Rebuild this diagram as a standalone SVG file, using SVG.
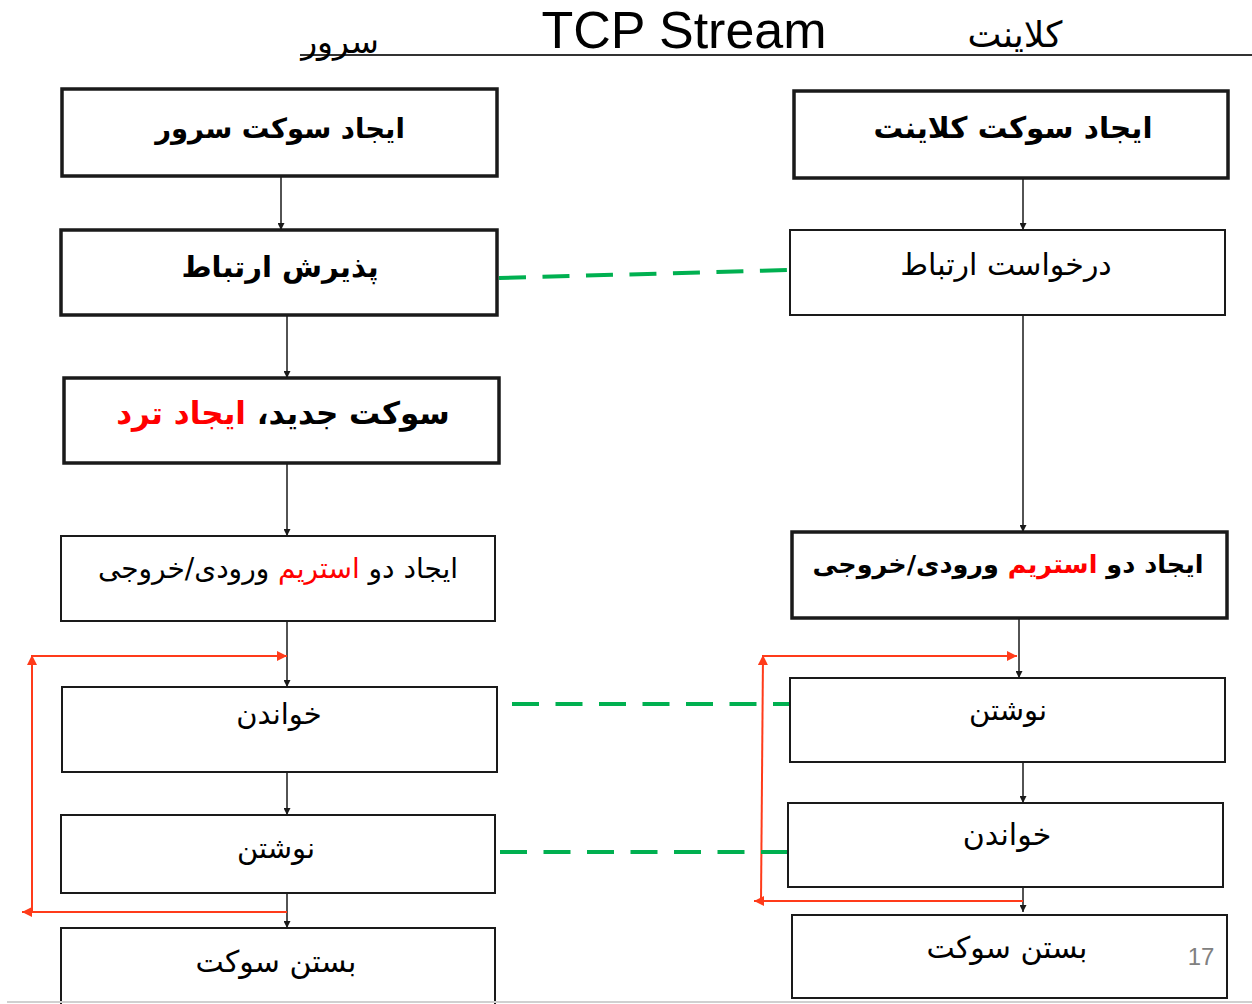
<svg xmlns="http://www.w3.org/2000/svg" width="1252" height="1004" viewBox="0 0 1252 1004">
  <style>
    .box { fill: #ffffff; stroke: #1a1a1a; stroke-width: 2; }
    .box.strong { stroke-width: 3.5; }
    .fa { font-family: "DejaVu Sans", sans-serif; fill: #000000; text-anchor: middle; direction: rtl; }
    .fa.b { font-weight: bold; }
    .red { fill: #ff0000; }
    .flow { stroke: #1a1a1a; stroke-width: 1.5; fill: none; marker-end: url(#arrowBlack); }
    .loop { stroke: #ff3b1a; stroke-width: 2; fill: none; }
    .link { stroke: #00b050; stroke-width: 4; stroke-dasharray: 27 16.5; fill: none; }
  </style>
  <defs>
    <marker id="arrowBlack" viewBox="0 0 10 10" refX="10" refY="5" markerWidth="7" markerHeight="7" markerUnits="userSpaceOnUse" orient="auto">
      <path d="M0,0 L10,5 L0,10 z" fill="#1a1a1a"/>
    </marker>
    <marker id="arrowRed" viewBox="0 0 10 10" refX="10" refY="5" markerWidth="10" markerHeight="10" markerUnits="userSpaceOnUse" orient="auto">
      <path d="M0,0 L10,5 L0,10 z" fill="#ff3b1a"/>
    </marker>
  </defs>

  <rect x="0" y="0" width="1252" height="1004" fill="#ffffff"/>

  <!-- heading -->
  <g id="heading">
    <line x1="300" y1="55" x2="1252" y2="55" stroke="#333333" stroke-width="2"/>
    <text x="684" y="48" font-family="Liberation Sans, Arial, sans-serif" font-size="52" text-anchor="middle" fill="#000000">TCP Stream</text>
    <text class="fa" x="340" y="53" font-size="33">سرور</text>
    <text class="fa" x="1015" y="47" font-size="36">کلاینت</text>
  </g>

  <!-- connectors -->
  <g id="connectors">
    <!-- server flow -->
    <line class="flow" x1="281" y1="176" x2="281" y2="230"/>
    <line class="flow" x1="287" y1="315" x2="287" y2="378"/>
    <line class="flow" x1="287" y1="463" x2="287" y2="536"/>
    <line class="flow" x1="287" y1="621" x2="287" y2="687"/>
    <line class="flow" x1="287" y1="772" x2="287" y2="815"/>
    <line class="flow" x1="287" y1="893" x2="287" y2="928"/>
    <!-- client flow -->
    <line class="flow" x1="1023" y1="178" x2="1023" y2="230"/>
    <line class="flow" x1="1023" y1="315" x2="1023" y2="532"/>
    <line class="flow" x1="1019" y1="618" x2="1019" y2="678"/>
    <line class="flow" x1="1023" y1="762" x2="1023" y2="803"/>
    <line class="flow" x1="1023" y1="887" x2="1023" y2="912"/>
    <!-- server read/write loop -->
    <line class="loop" x1="287" y1="912" x2="22" y2="912" marker-end="url(#arrowRed)"/>
    <line class="loop" x1="32" y1="912" x2="32" y2="655" marker-end="url(#arrowRed)"/>
    <line class="loop" x1="32" y1="656" x2="287" y2="656" marker-end="url(#arrowRed)"/>
    <!-- client write/read loop -->
    <line class="loop" x1="1023" y1="901" x2="754" y2="901" marker-end="url(#arrowRed)"/>
    <line class="loop" x1="761" y1="901" x2="763" y2="655" marker-end="url(#arrowRed)"/>
    <line class="loop" x1="763" y1="656" x2="1017" y2="656" marker-end="url(#arrowRed)"/>
    <!-- exchanges between the two sides -->
    <line class="link" x1="499" y1="278" x2="790" y2="270"/>
    <line class="link" x1="512" y1="704" x2="800" y2="704"/>
    <line class="link" x1="500" y1="852" x2="787" y2="852"/>
  </g>

  <!-- server side -->
  <g id="server-create">
    <rect class="box strong" x="62" y="89" width="435" height="87"/>
    <text class="fa b" x="280" y="138" font-size="27.5">ایجاد سوکت سرور</text>
  </g>
  <g id="server-accept">
    <rect class="box strong" x="61" y="230" width="436" height="85"/>
    <text class="fa b" x="280" y="277" font-size="29">پذیرش ارتباط</text>
  </g>
  <g id="server-thread">
    <rect class="box strong" x="64" y="378" width="435" height="85"/>
    <text class="fa b" x="283" y="424" font-size="31">سوکت جدید، <tspan class="red">ایجاد ترد</tspan></text>
  </g>
  <g id="server-streams">
    <rect class="box" x="61" y="536" width="434" height="85"/>
    <text class="fa" x="278" y="578" font-size="28">ایجاد دو <tspan class="red">استریم</tspan> ورودی/خروجی</text>
  </g>
  <g id="server-read">
    <rect class="box" x="62" y="687" width="435" height="85"/>
    <text class="fa" x="279" y="724" font-size="29">خواندن</text>
  </g>
  <g id="server-write">
    <rect class="box" x="61" y="815" width="434" height="78"/>
    <text class="fa" x="276" y="858" font-size="29">نوشتن</text>
  </g>
  <g id="server-close">
    <rect class="box" x="61" y="928" width="434" height="90"/>
    <text class="fa" x="276" y="972" font-size="30">بستن سوکت</text>
  </g>

  <!-- client side -->
  <g id="client-create">
    <rect class="box strong" x="794" y="91" width="434" height="87"/>
    <text class="fa b" x="1013" y="138" font-size="29.5">ایجاد سوکت کلاینت</text>
  </g>
  <g id="client-request">
    <rect class="box" x="790" y="230" width="435" height="85"/>
    <text class="fa" x="1006" y="275" font-size="30">درخواست ارتباط</text>
  </g>
  <g id="client-streams">
    <rect class="box strong" x="792" y="532" width="435" height="86"/>
    <text class="fa b" x="1008" y="573" font-size="25.5">ایجاد دو <tspan class="red">استریم</tspan> ورودی/خروجی</text>
  </g>
  <g id="client-write">
    <rect class="box" x="790" y="678" width="435" height="84"/>
    <text class="fa" x="1008" y="720" font-size="29">نوشتن</text>
  </g>
  <g id="client-read">
    <rect class="box" x="788" y="803" width="435" height="84"/>
    <text class="fa" x="1007" y="845" font-size="30">خواندن</text>
  </g>
  <g id="client-close">
    <rect class="box" x="792" y="915" width="435" height="83"/>
    <text class="fa" x="1007" y="958" font-size="30">بستن سوکت</text>
  </g>

  <!-- page number and bottom edge -->
  <text x="1201" y="965" font-family="Liberation Sans, Arial, sans-serif" font-size="24" fill="#808080" text-anchor="middle">17</text>
  <line x1="7" y1="1002" x2="1252" y2="1002" stroke="#d0d0d0" stroke-width="2"/>
</svg>
